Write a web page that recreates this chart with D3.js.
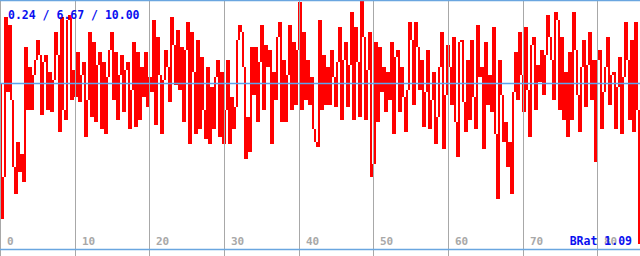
<!DOCTYPE html>
<html>
<head>
<meta charset="utf-8">
<script src="https://cdn.jsdelivr.net/npm/d3@7"></script>
<style>
  html, body { margin: 0; padding: 0; background: #fff; }
  svg { display: block; }
</style>
</head>
<body>
<div id="chart"></div>
<script>
// readings, left to right (one every 2px)
var values = [
  1.2, 2.9, 9.3, 6.3, 9.0, 6.0, 3.3, 2.2, 4.3, 3.1, 3.8, 2.7, 8.1, 5.6, 7.3, 5.6, 7.0, 7.6, 8.4, 7.8, 5.4, 7.5, 7.8, 5.6, 7.1, 5.5, 6.8, 8.7, 7.8, 4.7, 9.3, 5.6, 5.2, 9.2, 9.4, 6.0, 7.2, 6.1, 7.9, 5.9, 7.0, 7.5, 4.5, 6.0, 8.7, 5.3,
  8.3, 5.1, 7.4, 7.9, 4.8, 7.5, 4.6, 6.9, 8.0, 8.7, 6.0, 7.9, 5.2, 7.0, 7.8, 5.5, 7.2, 7.5, 4.8, 6.4, 8.3, 4.9, 7.9, 5.2, 7.3, 6.1, 7.9, 5.7, 6.9, 6.3, 9.2, 5.0, 8.5, 7.0, 4.6, 6.8, 8.0, 7.3, 5.9, 9.3, 8.2, 6.6, 8.8, 6.4, 8.1, 5.1,
  8.0, 9.1, 4.2, 8.7, 7.1, 4.6, 8.4, 4.8, 7.7, 5.6, 4.4, 7.3, 4.2, 6.5, 4.8, 6.9, 7.6, 4.5, 7.1, 4.2, 5.6, 7.6, 4.2, 6.1, 4.8, 5.7, 8.4, 9.0, 8.7, 7.3, 3.6, 5.3, 3.9, 8.1, 6.2, 8.1, 5.1, 7.5, 9.0, 5.6, 8.2, 7.3, 8.0, 4.2, 7.1, 6.0,
  8.5, 9.1, 5.1, 7.6, 5.1, 7.0, 9.0, 5.6, 8.3, 5.8, 8.0, 9.9, 5.6, 8.7, 6.0, 7.6, 5.8, 6.9, 4.8, 4.3, 4.1, 9.2, 5.6, 7.8, 5.8, 7.3, 5.8, 8.0, 6.9, 5.7, 7.5, 8.9, 5.2, 7.6, 8.3, 5.7, 7.4, 9.5, 5.2, 8.9, 7.5, 5.3, 10.0, 8.5, 5.2, 7.2,
  8.7, 2.9, 3.4, 8.3, 5.1, 8.1, 6.3, 7.3, 5.5, 7.1, 6.0, 8.3, 4.6, 7.7, 8.0, 5.5, 7.3, 6.1, 4.7, 6.4, 9.1, 8.4, 5.8, 9.1, 8.1, 6.4, 7.6, 4.9, 6.3, 8.0, 4.8, 6.0, 7.1, 4.2, 5.3, 7.3, 8.7, 4.0, 6.2, 8.2, 7.3, 5.8, 8.5, 5.1, 3.7, 8.3,
  8.4, 5.9, 4.7, 7.6, 5.2, 8.4, 6.1, 4.8, 9.0, 6.9, 7.3, 4.0, 8.3, 5.8, 7.0, 5.5, 8.9, 4.6, 2.0, 7.6, 6.2, 4.3, 5.1, 3.3, 4.3, 2.2, 6.3, 7.9, 6.0, 8.7, 7.0, 5.5, 8.9, 6.4, 4.5, 8.2, 8.5, 5.6, 7.4, 6.7, 8.0, 6.2, 7.8, 9.4, 8.5, 7.6,
  6.0, 9.5, 9.2, 5.6, 8.5, 5.2, 7.1, 4.5, 7.9, 5.2, 9.5, 8.0, 6.2, 4.7, 7.3, 8.4, 5.7, 7.4, 8.7, 6.0, 7.6, 3.5, 7.6, 8.0, 4.8, 6.3, 7.3, 8.5, 5.8, 7.0, 7.1, 4.8, 6.5, 7.7, 4.6, 6.9, 9.1, 7.6, 5.2, 8.4, 4.7, 9.1, 5.6, 0.2
];
var gridTicks = [0, 10, 20, 30, 40, 50, 60, 70, 80];
var minVal = 0.24, avgVal = 6.67, maxVal = 10.00;
var ratioLabel = "BRat 1.09";

var width = 640, height = 256;

var svg = d3.select("#chart").append("svg")
    .attr("width", width)
    .attr("height", height);

// grid scale in time units, samples by index
var x = d3.scaleLinear().domain([0, 85.7]).range([0, width]);
var xb = d3.scaleBand().domain(d3.range(values.length)).range([0, width]).padding(0);
var y = d3.scaleLinear().domain([0, maxVal]).range([249, 0]);

// each sample is a column from the previous reading to its own
svg.selectAll(".col")
    .data(values)
    .enter().append("rect")
    .attr("class", "col")
    .attr("x", (d, i) => xb(i))
    .attr("width", xb.bandwidth())
    .attr("y", (d, i) => y(Math.max(d, i ? values[i - 1] : avgVal)))
    .attr("height", (d, i) => Math.max(1, Math.abs(y(d) - y(i ? values[i - 1] : avgVal))))
    .attr("shape-rendering", "crispEdges")
    .style("fill", "#ff0000");

// vertical grid
svg.selectAll(".grid")
    .data(gridTicks)
    .enter().append("line")
    .attr("x1", d => Math.round(x(d)) + 0.5)
    .attr("x2", d => Math.round(x(d)) + 0.5)
    .attr("y1", 0)
    .attr("y2", height)
    .attr("stroke", "#a8a8a8")
    .attr("stroke-width", 1);

// average line + frame lines
svg.append("line")
    .attr("x1", 0).attr("x2", width)
    .attr("y1", Math.round(y(avgVal)) + 0.5).attr("y2", Math.round(y(avgVal)) + 0.5)
    .attr("stroke", "#5aa5f0").attr("stroke-width", 1.5);
svg.append("line")
    .attr("x1", 0).attr("x2", width)
    .attr("y1", 0.5).attr("y2", 0.5)
    .attr("stroke", "#6aa6e0").attr("stroke-width", 1.5);
svg.append("line")
    .attr("x1", 0).attr("x2", width)
    .attr("y1", 249.5).attr("y2", 249.5)
    .attr("stroke", "#6aa6e0").attr("stroke-width", 1.5);

// tick labels
svg.selectAll(".tick-label")
    .data(gridTicks)
    .enter().append("text")
    .attr("x", d => Math.round(x(d)) + 7)
    .attr("y", 245)
    .text(d => d)
    .style("font-family", "'DejaVu Sans Mono', monospace")
    .style("font-weight", "bold")
    .style("font-size", "11px")
    .style("fill", "#a8a8a8");

svg.append("text")
    .attr("x", 8).attr("y", 19)
    .text(minVal.toFixed(2) + " / " + avgVal.toFixed(2) + " / " + maxVal.toFixed(2))
    .style("font-family", "'DejaVu Sans Mono', monospace")
    .style("font-weight", "bold")
    .style("font-size", "11.5px")
    .style("fill", "#0a10f0");

svg.append("text")
    .attr("x", 632).attr("y", 245)
    .attr("text-anchor", "end")
    .text(ratioLabel)
    .style("font-family", "'DejaVu Sans Mono', monospace")
    .style("font-weight", "bold")
    .style("font-size", "11.5px")
    .style("fill", "#0a10f0");
</script>
</body>
</html>
